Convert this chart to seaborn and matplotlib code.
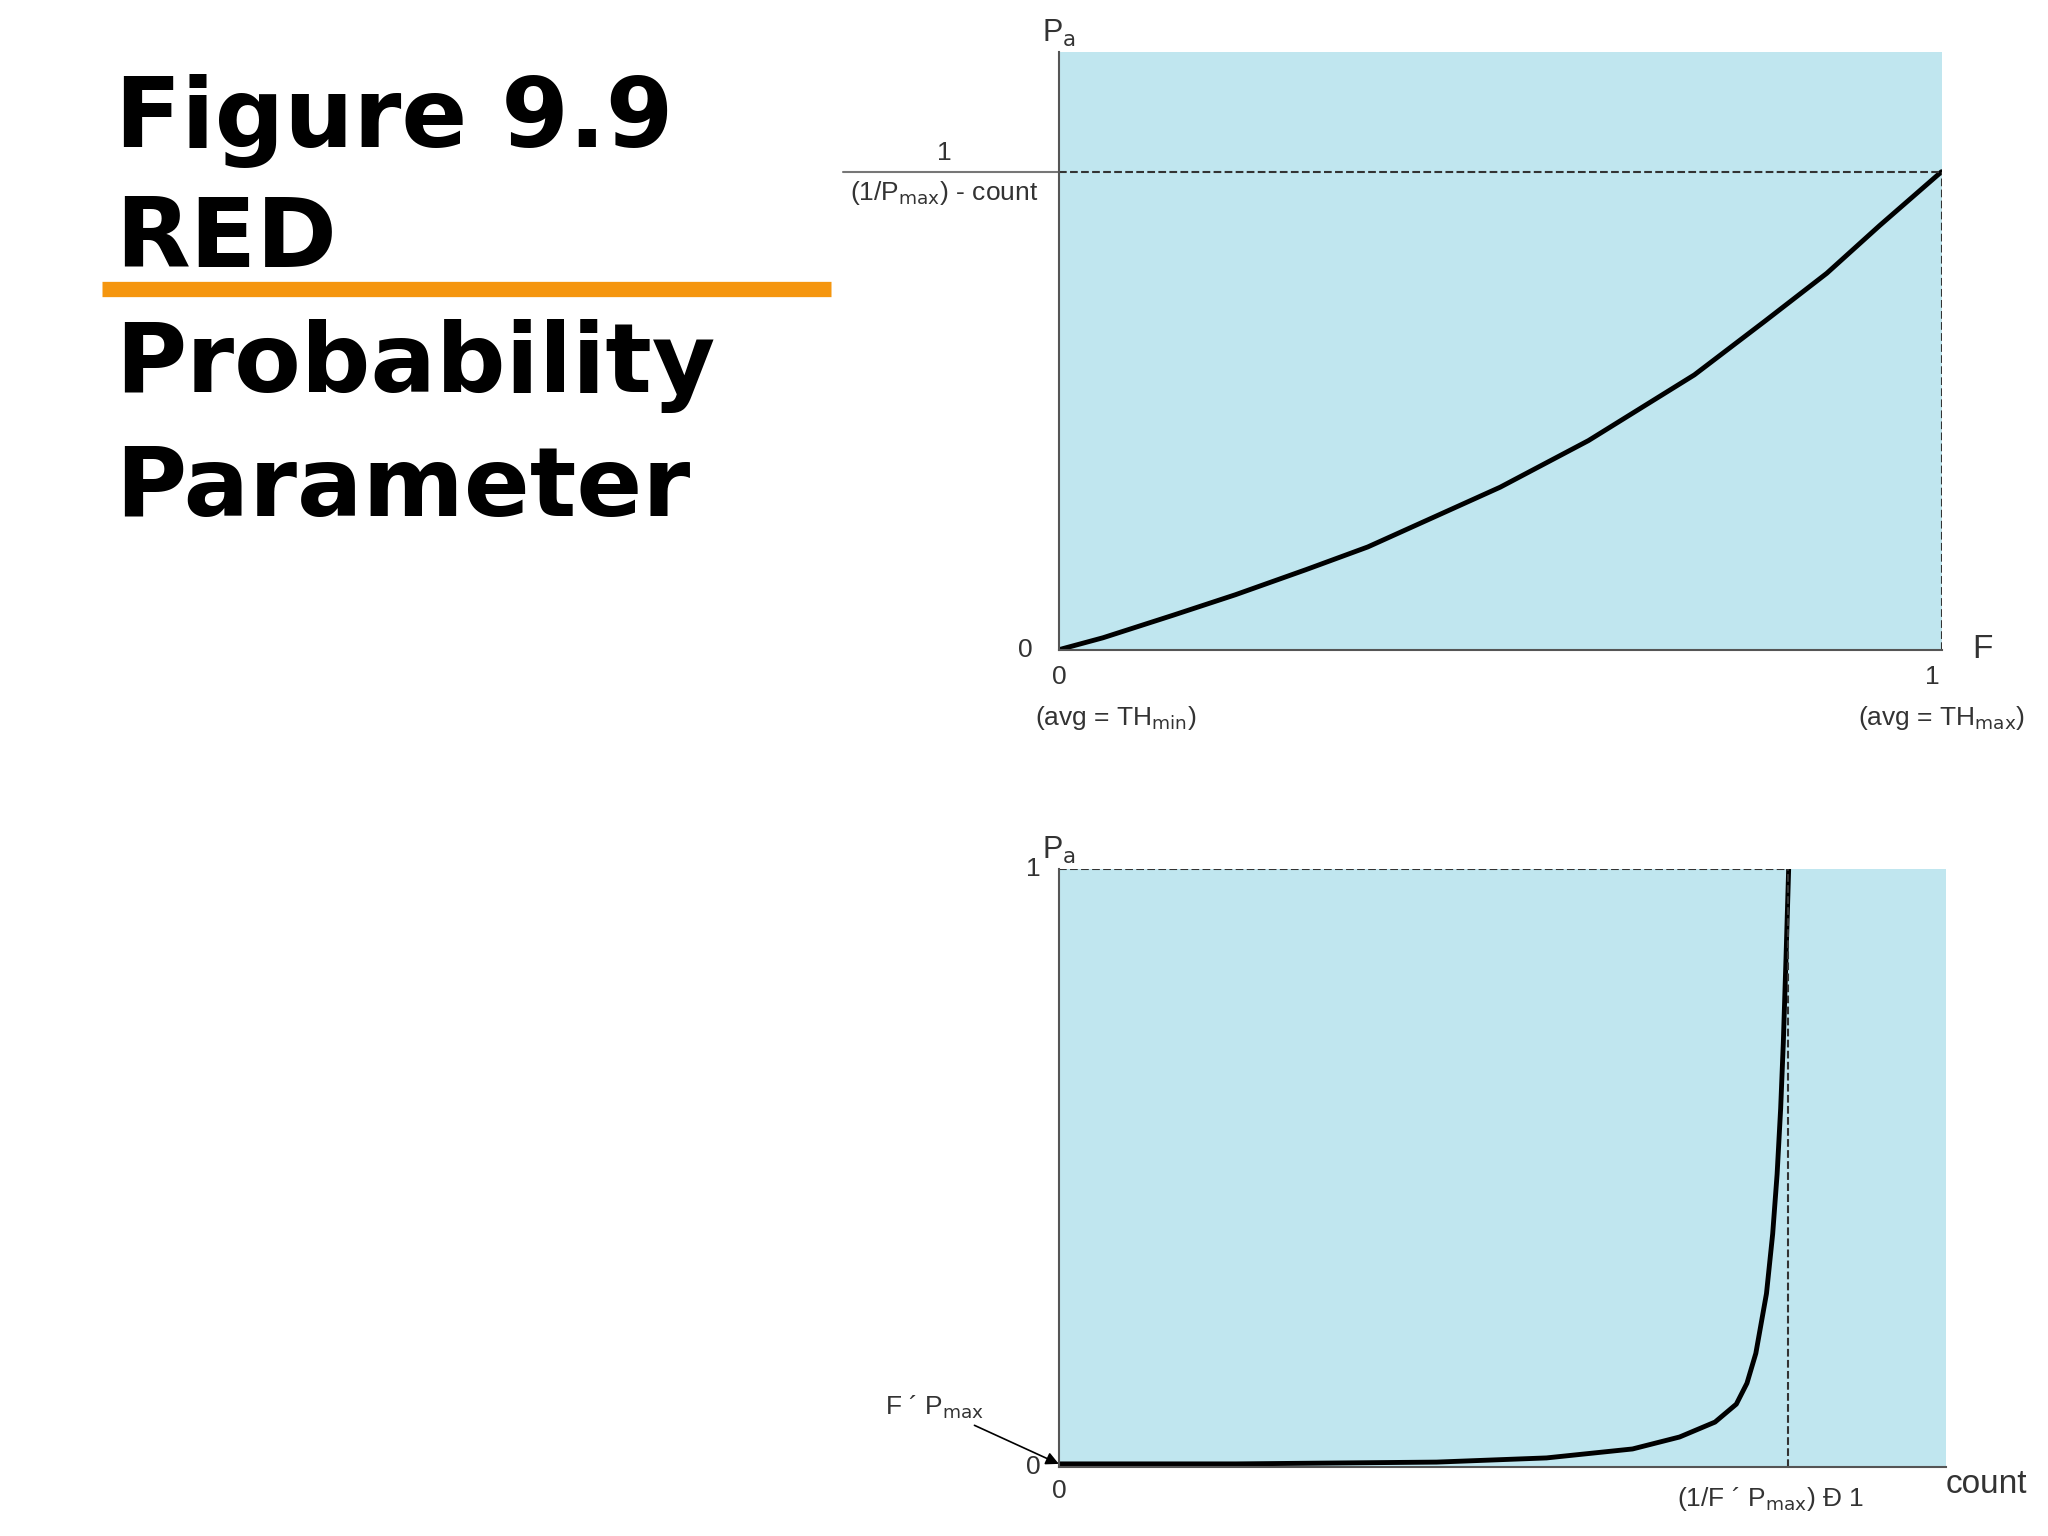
import numpy as np
import pandas as pd
import matplotlib.pyplot as plt
import seaborn as sns

sns.set_theme(style="white")
plt.rcParams['font.family'] = ['Liberation Sans', 'DejaVu Sans']

# top panel: Pa vs F
f_vals = [0.0, 0.05, 0.13, 0.2, 0.28, 0.35, 0.5, 0.6, 0.72, 0.8, 0.87, 0.93, 1.0]
pa_f = [0.0, 0.02, 0.058, 0.092, 0.134, 0.172, 0.272, 0.35, 0.46, 0.55, 0.63, 0.71, 0.80]
# bottom panel: Pa vs count
count_vals = [0.0, 0.2, 0.426, 0.55, 0.647, 0.7, 0.74, 0.764, 0.776, 0.786, 0.798, 0.805, 0.81, 0.814, 0.817, 0.82, 0.823]
pa_count = [0.005, 0.005, 0.008, 0.015, 0.03, 0.05, 0.075, 0.105, 0.14, 0.19, 0.29, 0.39, 0.49, 0.6, 0.71, 0.85, 1.0]
pa_top_level = 0.80
count_limit = 0.822

bg = "#c0e6ef"
fig = plt.figure(figsize=(20.48, 15.36), dpi=100)

# title block
for txt, y in [("Figure 9.9", 0.904), ("RED", 0.826), ("Probability", 0.745), ("Parameter", 0.664)]:
    fig.text(0.056, y, txt, fontsize=70, fontweight='black', family=['DejaVu Sans'],
             va='baseline', color='black')
fig.add_artist(plt.Line2D([0.050, 0.406], [0.812, 0.812], color="#f5960f", lw=11,
                          solid_capstyle='butt'))

fs = 19
tc = '#333333'
# ---- top axes
ax1 = fig.add_axes([0.517, 0.577, 0.431, 0.389])
ax1.set_facecolor(bg)
sns.lineplot(x=f_vals, y=pa_f, ax=ax1, color='black', lw=3.5)
ax1.set_xlim(0, 1)
ax1.set_ylim(0, 1)
ax1.set_xticks([]); ax1.set_yticks([])
for s in ['top', 'right']:
    ax1.spines[s].set_visible(False)
for s in ['left', 'bottom']:
    ax1.spines[s].set_color('#555555'); ax1.spines[s].set_linewidth(1.5)
ax1.plot([0, 1], [pa_top_level, pa_top_level], ls='--', color=tc, lw=1.5)
ax1.plot([1, 1], [0, pa_top_level], ls='--', color=tc, lw=1.5)
ax1.plot([-0.245, 0], [pa_top_level, pa_top_level], color='#777777', lw=1.5, clip_on=False)
ax1.text(-0.13, pa_top_level + 0.012, "1", ha='center', va='bottom', fontsize=fs, color=tc)
ax1.text(-0.13, pa_top_level - 0.012, r"(1/P$_{\rm max}$) - count", ha='center', va='top', fontsize=fs, color=tc)
ax1.text(-0.03, 0, "0", ha='right', va='center', fontsize=fs, color=tc)
ax1.text(0, -0.025, "0", ha='center', va='top', fontsize=fs, color=tc)
ax1.text(0.065, -0.09, r"(avg = TH$_{\rm min}$)", ha='center', va='top', fontsize=fs, color=tc)
ax1.text(0.99, -0.025, "1", ha='center', va='top', fontsize=fs, color=tc)
ax1.text(1.0, -0.09, r"(avg = TH$_{\rm max}$)", ha='center', va='top', fontsize=fs, color=tc)
ax1.text(1.035, 0.0, "F", ha='left', va='center', fontsize=24, color=tc)
ax1.text(0.0, 1.005, r"P$_{\rm a}$", ha='center', va='bottom', fontsize=22, color=tc)

# ---- bottom axes
ax2 = fig.add_axes([0.517, 0.045, 0.433, 0.389])
ax2.set_facecolor(bg)
sns.lineplot(x=count_vals, y=pa_count, ax=ax2, color='black', lw=3.5)
ax2.set_xlim(0, 1)
ax2.set_ylim(0, 1)
ax2.set_xticks([]); ax2.set_yticks([])
for s in ['top', 'right']:
    ax2.spines[s].set_visible(False)
for s in ['left', 'bottom']:
    ax2.spines[s].set_color('#555555'); ax2.spines[s].set_linewidth(1.5)
ax2.plot([0, count_limit], [1, 1], ls='--', color=tc, lw=1.5)
ax2.plot([count_limit, count_limit], [0, 1], ls='--', color=tc, lw=1.5)
ax2.text(-0.02, 1, "1", ha='right', va='center', fontsize=fs, color=tc)
ax2.text(-0.02, 0, "0", ha='right', va='center', fontsize=fs, color=tc)
ax2.text(0, -0.02, "0", ha='center', va='top', fontsize=fs, color=tc)
ax2.text(count_limit - 0.02, -0.03, r"(1/F ´ P$_{\rm max}$) Ð 1", ha='center', va='top', fontsize=fs, color=tc)
ax2.text(1.0, -0.03, "count", ha='left', va='center', fontsize=24, color=tc)
ax2.text(0.0, 1.005, r"P$_{\rm a}$", ha='center', va='bottom', fontsize=22, color=tc)
ax2.annotate(r"F ´ P$_{\rm max}$", xy=(0.0, 0.005), xytext=(-0.14, 0.1),
             ha='center', va='center', fontsize=fs, color=tc,
             arrowprops=dict(arrowstyle='-|>', color='black', lw=1.2, shrinkB=0),
             annotation_clip=False)

fig.savefig("out.png", dpi=100)
